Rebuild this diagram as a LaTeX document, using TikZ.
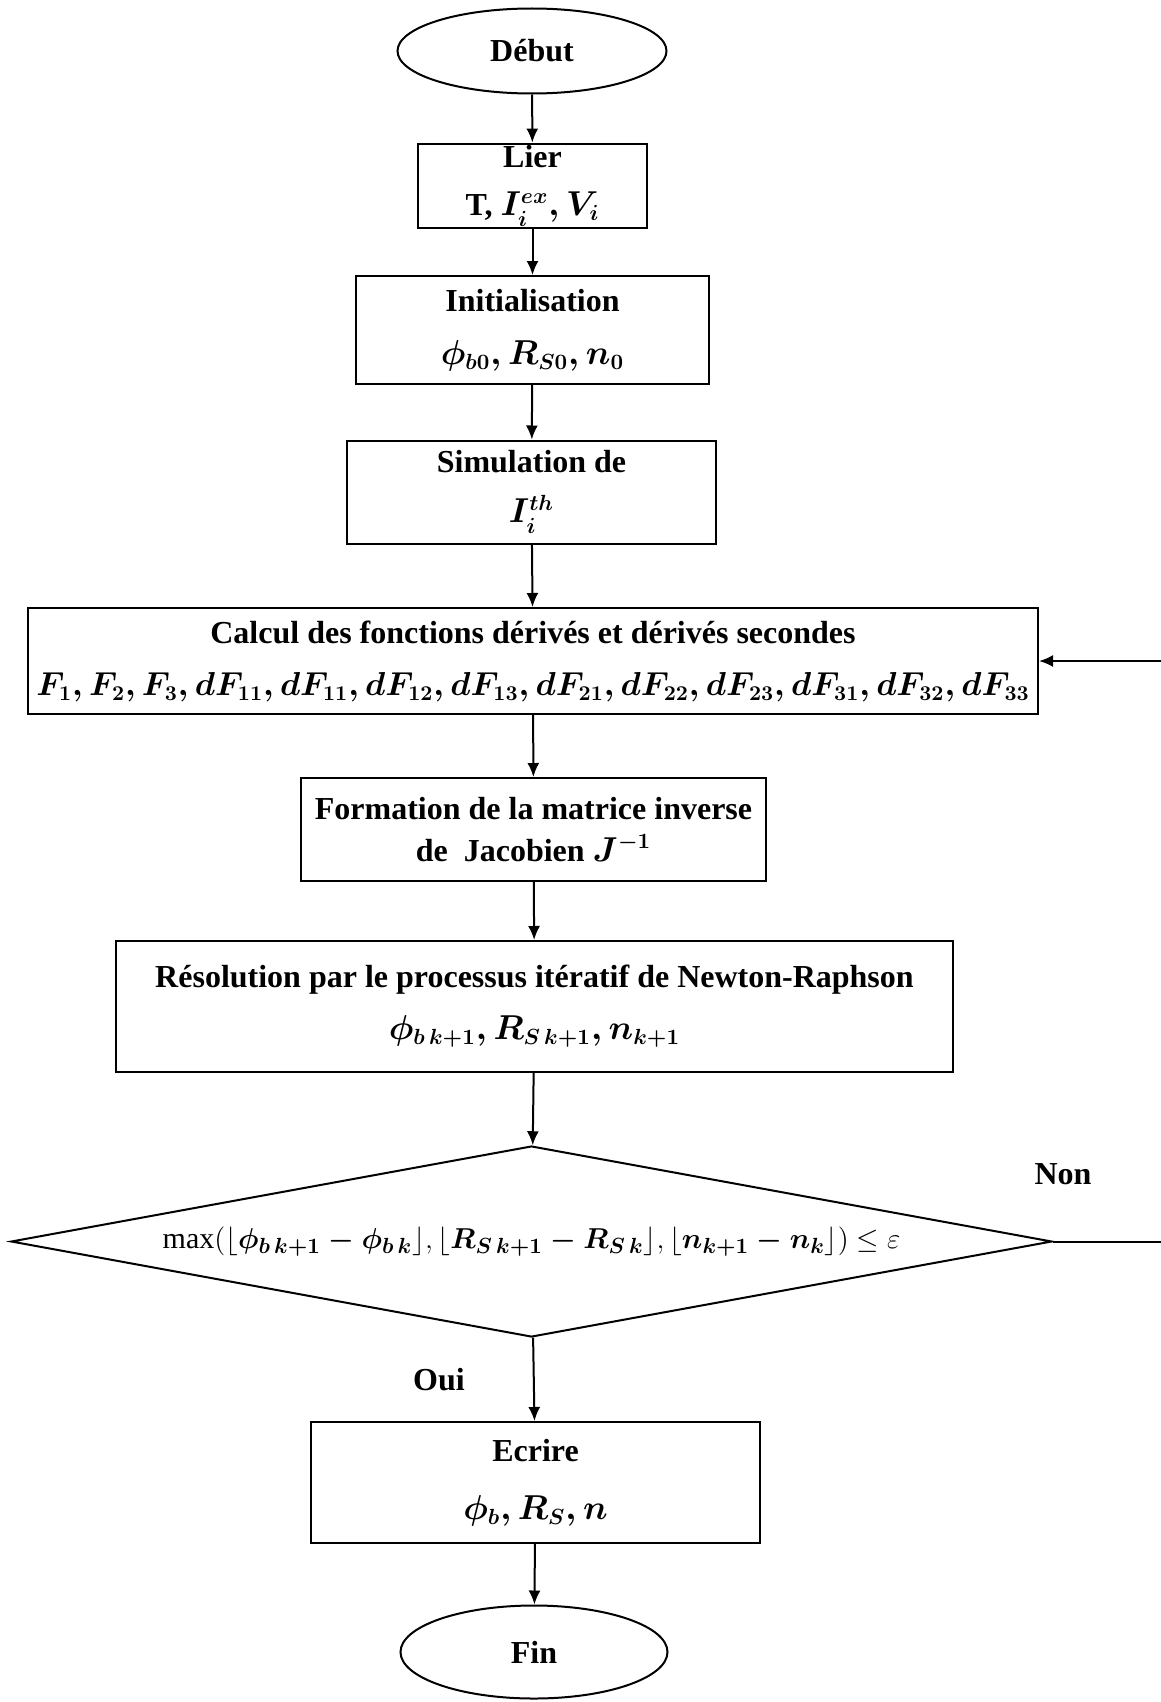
\documentclass[tikz,border=0pt]{standalone}
\usepackage{amsmath,amssymb}
\usepackage{fontspec}
\setmainfont{Liberation Serif}
\usetikzlibrary{shapes.geometric,arrows.meta,positioning}
\tikzset{
  bloc/.style={draw,line width=1pt,align=center,inner sep=1pt,
    font=\bfseries\boldmath\fontsize{16}{18}\selectfont},
  terminal/.style={ellipse,draw,line width=1pt,inner sep=0pt,
    font=\bfseries\fontsize{16}{18}\selectfont},
  test/.style={diamond,draw,line width=1pt,inner sep=0pt,aspect=5,
    font=\fontsize{15}{18}\selectfont},
  etiquette/.style={font=\bfseries\fontsize{16}{18}\selectfont}
}

\begin{document}
\begin{tikzpicture}[x=1pt,y=-1pt]
          \useasboundingbox (0,0) rectangle (580.5,851);
          \begin{scope}
              \node[terminal,minimum width=134.5pt,minimum height=42.5pt] (debut) at (266,25.5) {Début};
              \node[bloc,minimum width=114.5pt,minimum height=42pt] (lier) at (266.25,93)
                   {Lier\\[6pt] T, $I_i^{ex}, V_i$};
              \node[bloc,minimum width=176.5pt,minimum height=54pt] (init) at (266.25,165)
                   {Initialisation\\[8.5pt] $\phi_{b0}, R_{S0}, n_0$};
              \node[bloc,minimum width=184.5pt,minimum height=51.5pt] (simul) at (265.75,246)
                   {Simulation de\\[7pt] $I_i^{th}$};
              \node[bloc,minimum width=505pt,minimum height=53pt] (calcul) at (266.5,330.5)
                   {Calcul des fonctions dérivés et dérivés secondes\\[8pt]
                    \scalebox{0.96}{$F_1, F_2, F_3, dF_{11}, dF_{11}, dF_{12}, dF_{13}, dF_{21}, dF_{22}, dF_{23}, dF_{31}, dF_{32}, dF_{33}$}};
              \node[bloc,minimum width=232.5pt,minimum height=51.5pt] (formation) at (266.75,414.75)
                   {Formation de la matrice inverse\\[3pt] de~ Jacobien $J^{-1}$};
              \node[bloc,minimum width=418.5pt,minimum height=65.5pt] (resol) at (267.25,503.25)
                   {Résolution par le processus itératif de Newton-Raphson\\[8pt]
                    $\phi_{b\,k+1}, R_{S\,k+1}, n_{k+1}$};
              \node[test,minimum width=520.5pt,minimum height=95.5pt] (test) at (265.75,620.75)
                   {$\max(\lfloor\boldsymbol{\phi_{b\,k+1}-\phi_{b\,k}}\rfloor,
                     \lfloor\boldsymbol{R_{S\,k+1}-R_{S\,k}}\rfloor,
                     \lfloor\boldsymbol{n_{k+1}-n_k}\rfloor)\le\varepsilon$};
              \node[bloc,minimum width=224.5pt,minimum height=60.5pt] (ecrire) at (267.75,741.25)
                   {Ecrire\\[11pt] $\phi_b, R_S, n$};
              \node[terminal,minimum width=133.5pt,minimum height=46.5pt] (fin) at (267,826) {Fin};

              \node[etiquette] (oui) at (219.5,690) {Oui};
              \node[etiquette] (non) at (531.5,587) {Non};
              \coordinate (retour) at (600,0);
          \end{scope}

          \begin{scope}[>={Latex[length=7pt,width=6pt]},
                        every edge/.style={draw=black,line width=1pt}]
              \path [->] (debut) edge (lier);
              \path [->] (lier) edge (init);
              \path [->] (init) edge (simul);
              \path [->] (simul) edge (calcul);
              \path [->] (calcul) edge (formation);
              \path [->] (formation) edge (resol);
              \path [->] (resol) edge (test);
              \path [->] (test) edge (ecrire);
              \path [->] (ecrire) edge (fin);
              % retour vers le calcul (hors cadre a droite)
              \draw [->,line width=1pt] (test.east) -- (test.east -| retour) |- (calcul.east);
          \end{scope}

\end{tikzpicture}
\end{document}
